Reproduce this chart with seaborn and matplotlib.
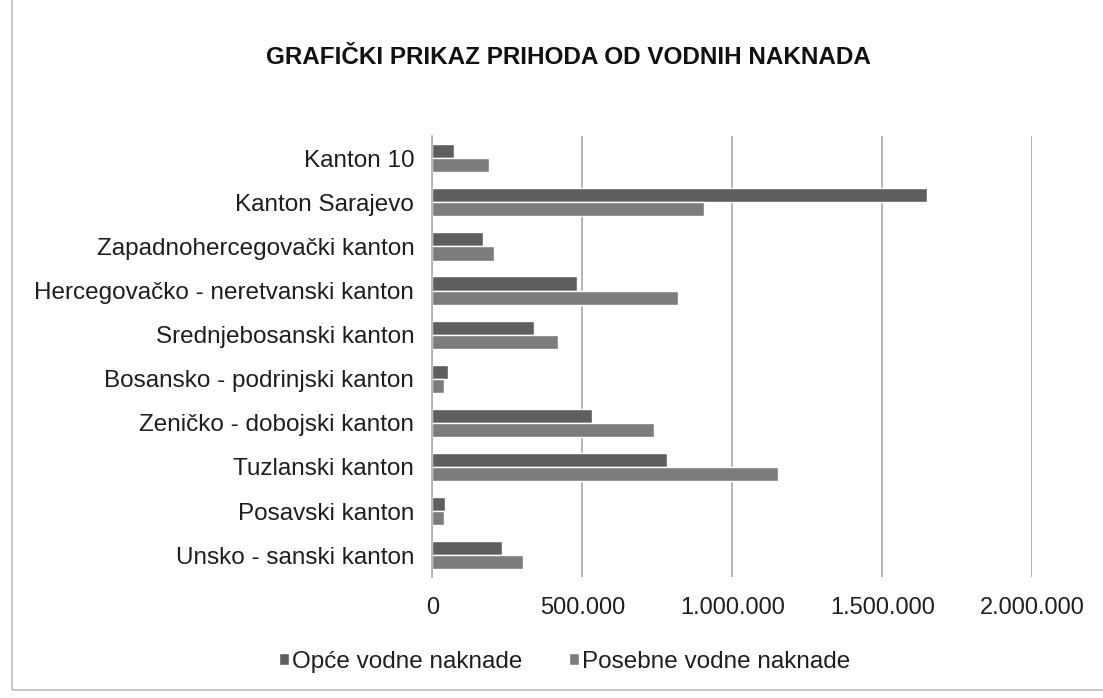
import pandas as pd
import matplotlib.pyplot as plt
import seaborn as sns
from matplotlib.ticker import FuncFormatter
from matplotlib.patches import Rectangle

# kantoni odozgo prema dolje, kako su na grafikonu
kantoni = [
    "Kanton 10",
    "Kanton Sarajevo",
    "Zapadnohercegovački kanton",
    "Hercegovačko - neretvanski kanton",
    "Srednjebosanski kanton",
    "Bosansko - podrinjski kanton",
    "Zeničko - dobojski kanton",
    "Tuzlanski kanton",
    "Posavski kanton",
    "Unsko - sanski kanton",
]
opce = [72000, 1650000, 168000, 483000, 338000, 52000, 533000, 782000, 43000, 232000]
posebne = [188000, 904000, 206000, 818000, 418000, 40000, 739000, 1152000, 40000, 301000]
serije = ["Opće vodne naknade", "Posebne vodne naknade"]
x_ticks = [0, 500000, 1000000, 1500000, 2000000]


def main():
    df = pd.DataFrame({"Kanton": kantoni * 2,
                       "Iznos": opce + posebne,
                       "Vrsta": [serije[0]] * len(kantoni) + [serije[1]] * len(kantoni)})

    sns.set_theme(style="white")
    plt.rcParams["font.family"] = ["Liberation Sans", "DejaVu Sans"]

    fig = plt.figure(figsize=(11.03, 6.98), dpi=100)
    ax = fig.add_axes([0.392, 0.173, 0.544, 0.632])

    sns.barplot(data=df, y="Kanton", x="Iznos", hue="Vrsta", orient="h",
                order=kantoni, hue_order=serije,
                palette=["#5e5e5e", "#7c7c7c"], width=0.64,
                saturation=1, ax=ax, legend=True)

    ax.set_xlim(0, 2000000)
    ax.set_xticks(x_ticks)
    ax.xaxis.set_major_formatter(FuncFormatter(lambda v, p: f"{int(v):,}".replace(",", ".")))
    ax.tick_params(axis="x", length=0, pad=14, labelsize=17, colors="#1e1e1e")
    ax.tick_params(axis="y", length=0, pad=13, labelsize=17.5, colors="#1e1e1e")
    ax.set_xlabel("")
    ax.set_ylabel("")
    ax.grid(axis="x", color="#a8a8a8", linewidth=1.2)
    ax.set_axisbelow(True)
    for s in ["top", "right", "bottom"]:
        ax.spines[s].set_visible(False)
    ax.spines["left"].set_color("#b0b0b0")

    handles, labels = ax.get_legend_handles_labels()
    ax.legend_.remove()
    fig.legend(handles, labels, loc="center", bbox_to_anchor=(0.512, 0.052), ncol=2,
               frameon=False, fontsize=17.5, handlelength=0.4, handleheight=0.4,
               handletextpad=0.15, columnspacing=1.9, labelcolor="#1e1e1e")

    fig.text(0.515, 0.917, "GRAFIČKI PRIKAZ PRIHODA OD VODNIH NAKNADA",
             ha="center", va="center", fontsize=17.5, fontweight="bold",
             color="#111111")

    # okvir grafikona
    fig.patches.append(Rectangle((0.011, 0.012), 1.2, 1.2, transform=fig.transFigure,
                                 fill=False, edgecolor="#bdbdbd", linewidth=1.2))

    fig.savefig("out.png", dpi=100)


if __name__ == "__main__":
    main()
